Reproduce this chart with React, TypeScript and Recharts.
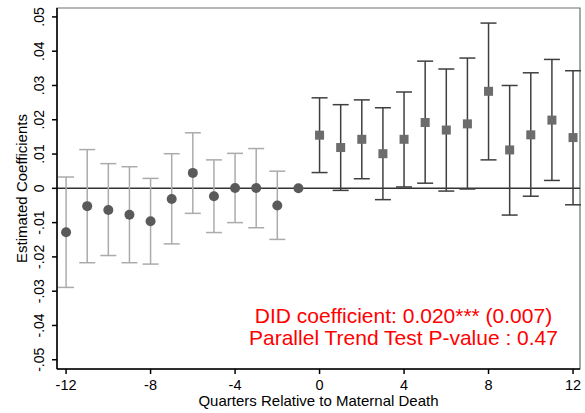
import {
  ComposedChart,
  Scatter,
  ErrorBar,
  XAxis,
  YAxis,
  ReferenceLine,
  ReferenceArea,
  Label,
} from 'recharts'

// quarters before the death (circles, light gray CIs)
const preQuarters = [-12, -11, -10, -9, -8, -7, -6, -5, -4, -3, -2]
const preCoef = [-0.0128, -0.0052, -0.0063, -0.0077, -0.0096, -0.0031, 0.0045, -0.0023, 0.0001, 0.0001, -0.005]
const preLow = [-0.0289, -0.0217, -0.0196, -0.0217, -0.0221, -0.0162, -0.0073, -0.0129, -0.01, -0.0115, -0.0149]
const preHigh = [0.0033, 0.0113, 0.0072, 0.0063, 0.0029, 0.0101, 0.0162, 0.0083, 0.0102, 0.0116, 0.005]

// reference quarter
const baseQuarter = [-1]
const baseCoef = [0]

// quarters after the death (squares, dark CIs)
const postQuarters = [0, 1, 2, 3, 4, 5, 6, 7, 8, 9, 10, 11, 12]
const postCoef = [0.0155, 0.0119, 0.0143, 0.0101, 0.0143, 0.0192, 0.017, 0.0188, 0.0283, 0.0112, 0.0156, 0.0199, 0.0148]
const postLow = [0.0046, -0.0006, 0.0028, -0.0033, 0.0004, 0.0015, -0.0008, -0.0002, 0.0083, -0.0078, -0.0023, 0.0023, -0.0048]
const postHigh = [0.0264, 0.0244, 0.0258, 0.0235, 0.0281, 0.0371, 0.0348, 0.038, 0.0482, 0.03, 0.0337, 0.0376, 0.0343]

const xTicks = [-12, -8, -4, 0, 4, 8, 12]
const yTicks = [-0.05, -0.04, -0.03, -0.02, -0.01, 0, 0.01, 0.02, 0.03, 0.04, 0.05]

const didText = 'DID coefficient: 0.020*** (0.007)'
const trendText = 'Parallel Trend Test P-value : 0.47'

const X_MIN = -12.43
const X_MAX = 12.33
const Y_MIN = -0.0527
const Y_MAX = 0.0526

const font = '"Liberation Sans", Arial, Helvetica, sans-serif'

const preData = preQuarters.map((q, i) => ({
  q,
  coef: preCoef[i],
  err: [preCoef[i] - preLow[i], preHigh[i] - preCoef[i]],
}))
const baseData = baseQuarter.map((q, i) => ({ q, coef: baseCoef[i] }))
const postData = postQuarters.map((q, i) => ({
  q,
  coef: postCoef[i],
  err: [postCoef[i] - postLow[i], postHigh[i] - postCoef[i]],
}))

const fmtY = (v: number) => {
  if (Math.abs(v) < 1e-9) return '0'
  return v.toFixed(2).replace('0.', '.')
}

const YTick = (props: any) => {
  const { x, y, payload } = props
  return (
    <text
      x={x}
      y={y}
      dy={-8}
      transform={`rotate(-90, ${x}, ${y})`}
      textAnchor='middle'
      fontSize={14}
      fontFamily={font}
      fill='#000'
    >
      {fmtY(payload.value)}
    </text>
  )
}

const XTick = (props: any) => {
  const { x, y, payload } = props
  return (
    <text x={x} y={y} dy={16} textAnchor='middle' fontSize={14.5} fontFamily={font} fill='#000'>
      {payload.value}
    </text>
  )
}

const Dot = (props: any) => (
  <circle cx={props.cx} cy={props.cy} r={5} fill='#5a5a5a' />
)

const Square = (props: any) => (
  <rect x={props.cx - 4.5} y={props.cy - 4.5} width={9} height={9} fill='#6c6c6c' />
)

export default function App() {
  return (
    <div style={{ position: 'absolute', top: 0, left: 0, width: 585, height: 413, background: '#fff' }}>
      <ComposedChart
        width={585}
        height={413}
        data={preData}
        margin={{ top: 8, right: 5, bottom: 14, left: 0 }}
      >
        <ReferenceArea
          x1={X_MIN}
          x2={X_MAX}
          y1={Y_MIN}
          y2={Y_MAX}
          fill='none'
          stroke='#6e6e6e'
          strokeWidth={1.2}
          ifOverflow='extendDomain'
        />
        <XAxis
          type='number'
          dataKey='q'
          domain={[X_MIN, X_MAX]}
          ticks={xTicks}
          allowDataOverflow
          height={30}
          tick={<XTick />}
          tickSize={5}
          tickMargin={0}
          stroke='#000'
          strokeWidth={1.5}
          interval={0}
        >
          <Label
            content={(p: any) => {
              const vb = p.viewBox
              return (
                <text
                  x={vb.x + vb.width / 2}
                  y={402}
                  textAnchor='middle'
                  dominantBaseline='middle'
                  fontSize={15}
                  fontFamily={font}
                  fill='#000'
                >
                  Quarters Relative to Maternal Death
                </text>
              )
            }}
          />
        </XAxis>
        <YAxis
          type='number'
          domain={[Y_MIN, Y_MAX]}
          ticks={yTicks}
          allowDataOverflow
          width={57}
          tick={<YTick />}
          tickSize={5}
          tickMargin={0}
          stroke='#000'
          strokeWidth={1.5}
          interval={0}
        >
          <Label
            content={(p: any) => {
              const vb = p.viewBox
              const cy = vb.y + vb.height / 2
              return (
                <text
                  x={23}
                  y={cy}
                  transform={`rotate(-90, 23, ${cy})`}
                  textAnchor='middle'
                  dominantBaseline='middle'
                  fontSize={15}
                  fontFamily={font}
                  fill='#000'
                >
                  Estimated Coefficients
                </text>
              )
            }}
          />
        </YAxis>
        <ReferenceLine y={0} stroke='#333' strokeWidth={1.5} />
        <Scatter data={preData} dataKey='coef' shape={<Dot />} isAnimationActive={false}>
          <ErrorBar dataKey='err' direction='y' width={8} stroke='#ababab' strokeWidth={1.5} />
        </Scatter>
        <Scatter data={baseData} dataKey='coef' shape={<Dot />} isAnimationActive={false} />
        <Scatter data={postData} dataKey='coef' shape={<Square />} isAnimationActive={false}>
          <ErrorBar dataKey='err' direction='y' width={8} stroke='#3f3f3f' strokeWidth={1.5} />
        </Scatter>
      </ComposedChart>
      <div
        style={{
          position: 'absolute',
          left: 203,
          width: 401,
          top: 305,
          textAlign: 'center',
          color: '#ff0000',
          fontFamily: font,
          fontSize: 21,
          lineHeight: '22px',
          whiteSpace: 'nowrap',
        }}
      >
        <div>{didText}</div>
        <div>{trendText}</div>
      </div>
    </div>
  )
}
